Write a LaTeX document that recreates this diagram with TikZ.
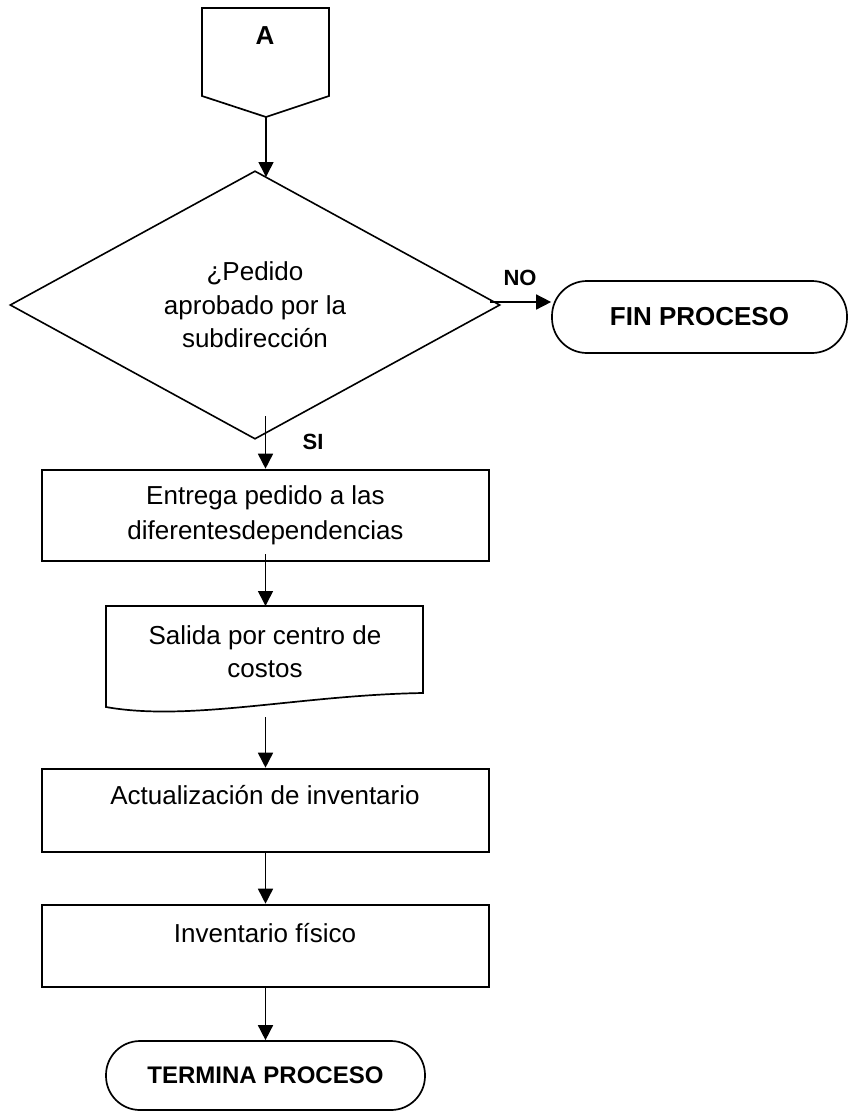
\documentclass[tikz,border=0pt]{standalone}
\usepackage{fontspec}
\setmainfont{Liberation Sans}
\usetikzlibrary{shapes.geometric,arrows.meta,calc}
\begin{document}
\begin{tikzpicture}[x=1pt,y=-1pt,
  txt/.style={font=\fontsize{26}{33}\selectfont, align=center, inner sep=0pt},
  btxt/.style={font=\bfseries\fontsize{22}{26}\selectfont, inner sep=0pt},
  arr/.style={line width=1.6pt, -{Triangle[length=15pt,width=15pt]}},
  shapeline/.style={line width=1.7pt},
  procbox/.style={draw, line width=2.6pt, rectangle, minimum width=447pt, inner sep=0pt, align=center, font=\fontsize{26}{35}\selectfont},
  termbox/.style={draw, line width=1.7pt, rectangle, inner sep=0pt},
  decbox/.style={draw, diamond, line width=1.6pt, minimum width=490pt, minimum height=267pt, inner sep=0pt, align=center, font=\fontsize{26}{33.5}\selectfont}
]
\useasboundingbox (0,0) rectangle (848,1114);

% off-page connector A
\draw[shapeline] (202,8) -- (329,8) -- (329,96) -- (266,117) -- (202,96) -- cycle;
\coordinate (Atip) at (266,117);
\node[btxt, font=\bfseries\fontsize{26}{30}\selectfont] (lblA) at (265,36) {A};

% decision
\node[decbox] (dec) at (255,305) {¿Pedido\\aprobado por la\\subdirección};
\coordinate (decTop) at (266,177);
\coordinate (noStart) at (490,302);
\coordinate (siStart) at (265.5,416);

% FIN PROCESO
\node[termbox, minimum width=295pt, minimum height=72pt, rounded corners=35pt,
      font=\bfseries\fontsize{26}{30}\selectfont] (fin) at (699.5,317) {FIN PROCESO};

% process box 1
\node[procbox, minimum height=91pt] (b1) at (265.5,515.5) {Entrega pedido a las\\diferentesdependencias};

% document
\draw[shapeline] (423,693) .. controls (300,695) and (190,722) .. (106,707) -- (106,606) -- (423,606) -- cycle;
\coordinate (docTop) at (265.5,606);
\coordinate (docBot) at (265.5,717);
\node[txt] (doctxt) at (265,652) {Salida por centro de\\costos};

% process boxes 2 and 3
\node[procbox, minimum height=83pt] (b2) at (265.5,810.5) {};
\node[txt] (b2txt) at (265,795) {Actualización de inventario};
\node[procbox, minimum height=82pt] (b3) at (265.5,946) {};
\node[txt] (b3txt) at (265,933) {Inventario físico};

% TERMINA PROCESO
\node[termbox, minimum width=319pt, minimum height=69pt, rounded corners=34pt,
      font=\bfseries\fontsize{24}{28}\selectfont] (t2) at (265.5,1075.5) {TERMINA PROCESO};

% labels
\node[btxt] (lblNO) at (520,278) {NO};
\node[btxt] (lblSI) at (313,442) {SI};

% connectors
\draw[arr] (Atip) -- (decTop);
\draw[arr] (noStart) -- (noStart -| fin.west);
\draw[arr] (siStart) -- (siStart |- b1.north);
\draw[arr] ([yshift=8pt]b1.south) -- (docTop);
\draw[arr] (docBot) -- (b2.north);
\draw[arr] ([yshift=2pt]b2.south) -- (b3.north);
\draw[arr] (b3.south) -- (t2.north);
\end{tikzpicture}
\end{document}
